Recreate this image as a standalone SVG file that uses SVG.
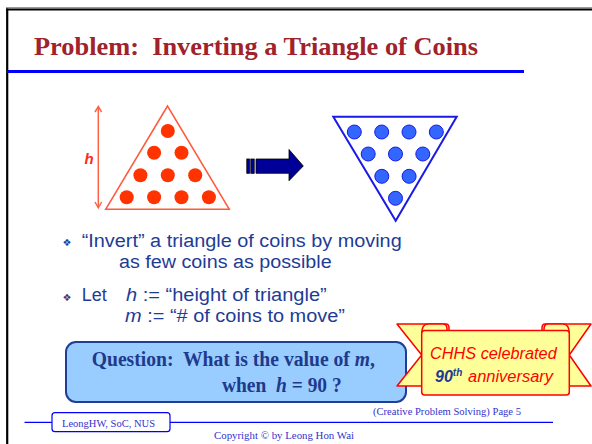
<svg xmlns="http://www.w3.org/2000/svg" width="592" height="444" viewBox="0 0 592 444">
<defs>
<style>
.title{font-family:"Liberation Serif",serif;font-weight:bold;font-size:26px;fill:#A0222B;white-space:pre}
.bul{font-family:"Liberation Sans",Arial,sans-serif;font-size:18px;fill:#1E3C96}
.bsym{font-family:"DejaVu Sans",sans-serif;font-size:10px;fill:#1E3C96}
.q{font-family:"Liberation Serif",serif;font-weight:bold;font-size:20px;fill:#1F3A8C;white-space:pre}
.rc{fill:#FF3300}
.bc{fill:#3366FF;stroke:#1A1AE6;stroke-width:1}
.foot{font-family:"Liberation Serif",serif;font-size:11px;fill:#3333CC}
.ban{fill:#FFFF99;stroke:#FF0000;stroke-width:1.5;stroke-linejoin:round}
.bt{font-family:"Liberation Sans",Arial,sans-serif;font-style:italic;font-size:16px;fill:#FF0000}
</style>
</defs>
<rect width="592" height="444" fill="#FFFFFF"/>
<g id="frame">
<line x1="6" y1="7.7" x2="592" y2="7.7" stroke="#999999" stroke-width="1.2"/>
<line x1="6" y1="9.4" x2="592" y2="9.4" stroke="#000000" stroke-width="2"/>
<line x1="7.2" y1="8.5" x2="7.2" y2="444" stroke="#000000" stroke-width="2.2"/>
</g>
<g id="title">
<text class="title" x="34" y="55" xml:space="preserve" textLength="444" lengthAdjust="spacingAndGlyphs">Problem:  Inverting a Triangle of Coins</text>
<line x1="7" y1="71.5" x2="524" y2="71.5" stroke="#0000FF" stroke-width="3"/>
</g>
<g id="red-triangle">
<polygon points="167.5,106 105.7,209.3 229.3,209.3" fill="none" stroke="#FF5A3C" stroke-width="1.5"/>
<circle class="rc" cx="167.8" cy="131" r="7"/>
<circle class="rc" cx="154.1" cy="152.8" r="7"/>
<circle class="rc" cx="181.5" cy="152.8" r="7"/>
<circle class="rc" cx="140.4" cy="175.2" r="7"/>
<circle class="rc" cx="167.8" cy="175.2" r="7"/>
<circle class="rc" cx="195.2" cy="175.2" r="7"/>
<circle class="rc" cx="126.7" cy="197.3" r="7"/>
<circle class="rc" cx="154.1" cy="197.3" r="7"/>
<circle class="rc" cx="181.5" cy="197.3" r="7"/>
<circle class="rc" cx="208.9" cy="197.3" r="7"/>
</g>
<g id="height-arrow">
<line x1="98.3" y1="107" x2="98.3" y2="207.5" stroke="#FF6347" stroke-width="1.5"/>
<polyline points="95,112 98.3,106.5 101.6,112" fill="none" stroke="#FF6347" stroke-width="1.5"/>
<polyline points="95,202 98.3,207.8 101.6,202" fill="none" stroke="#FF6347" stroke-width="1.5"/>
<text x="84.5" y="164" font-family="Liberation Sans, Arial, sans-serif" font-weight="bold" font-style="italic" font-size="15" fill="#FF2A1A">h</text>
</g>
<g id="block-arrow" fill="#000099" stroke="#000000" stroke-width="0.8">
<rect x="246.8" y="159" width="2.6" height="14.3"/>
<rect x="250.8" y="159" width="3.4" height="14.3"/>
<polygon points="256,159 289,159 289,149.5 303.3,166 289,180.7 289,173.3 256,173.3"/>
</g>
<g id="blue-triangle">
<polygon points="333.3,116.7 456.7,116.7 395.7,220.7" fill="none" stroke="#1A1AE6" stroke-width="2"/>
<circle class="bc" cx="354.3" cy="132" r="7"/>
<circle class="bc" cx="381.7" cy="132" r="7"/>
<circle class="bc" cx="409" cy="132" r="7"/>
<circle class="bc" cx="436.3" cy="132" r="7"/>
<circle class="bc" cx="368.2" cy="154" r="7"/>
<circle class="bc" cx="395.5" cy="154" r="7"/>
<circle class="bc" cx="422.8" cy="154" r="7"/>
<circle class="bc" cx="381.8" cy="176.3" r="7"/>
<circle class="bc" cx="409.1" cy="176.3" r="7"/>
<circle class="bc" cx="395.5" cy="198.3" r="7"/>
</g>
<g id="bullets">
<text class="bsym" x="62.5" y="245.5">❖</text>
<text class="bul" x="81.7" y="247" textLength="320" lengthAdjust="spacingAndGlyphs">“Invert” a triangle of coins by moving</text>
<text class="bul" x="119" y="267.5" textLength="212.7" lengthAdjust="spacingAndGlyphs">as few coins as possible</text>
<text class="bsym" x="62.5" y="300.5">❖</text>
<text class="bul" x="81.7" y="300.5">Let</text>
<text class="bul" x="126" y="300.5" textLength="200.7" lengthAdjust="spacingAndGlyphs"><tspan font-style="italic">h</tspan> := “height of triangle”</text>
<text class="bul" x="125" y="322" textLength="220" lengthAdjust="spacingAndGlyphs"><tspan font-style="italic">m</tspan> := “# of coins to move”</text>
</g>
<g id="question-box">
<rect x="66" y="342" width="340" height="60" rx="10" fill="#99CCFF" stroke="#1F3D99" stroke-width="2"/>
<text class="q" x="91.7" y="365.5" xml:space="preserve" textLength="283.3" lengthAdjust="spacingAndGlyphs">Question:  What is the value of <tspan font-style="italic">m</tspan>,</text>
<text class="q" x="222" y="392" xml:space="preserve" textLength="119.7" lengthAdjust="spacingAndGlyphs">when  <tspan font-style="italic">h</tspan> = 90 ?</text>
</g>
<g id="banner">
<path class="ban" d="M397,324 L446,324 Q449,324 449,328 L449,386 L397,386 L421.7,355 Z"/>
<path class="ban" d="M591,324 L545,324 Q542,324 542,328 L542,386 L591,386 L569.3,355 Z"/>
<path class="ban" d="M421.7,334 Q421.7,324 428,324 L443,324 Q447,324 447,329 L447,334 Z" fill="#F2F28C"/>
<path class="ban" d="M569.3,334 Q569.3,324 563,324 L548,324 Q544,324 544,329 L544,334 Z" fill="#F2F28C"/>
<rect class="ban" x="421.7" y="330.5" width="147.6" height="64.5" rx="3"/>
<text class="bt" x="430" y="358.5" textLength="126.7" lengthAdjust="spacingAndGlyphs">CHHS celebrated</text>
<text x="435" y="381.5" font-family="Liberation Sans, Arial, sans-serif" font-style="italic" font-weight="bold" font-size="16" fill="#1F3A93">90<tspan font-size="10" dy="-6" font-weight="bold">th</tspan></text>
<text class="bt" x="468" y="381.5" textLength="85" lengthAdjust="spacingAndGlyphs">anniversary</text>
</g>
<g id="footer">
<text class="foot" x="373" y="415" textLength="148" lengthAdjust="spacingAndGlyphs">(Creative Problem Solving) Page 5</text>
<line x1="24.5" y1="422.3" x2="553" y2="422.3" stroke="#0000FF" stroke-width="1.2"/>
<rect x="52" y="412.7" width="118" height="19" rx="3" fill="#FFFFFF" stroke="#0000FF" stroke-width="1.2"/>
<text class="foot" x="62" y="427" textLength="93" lengthAdjust="spacingAndGlyphs">LeongHW, SoC, NUS</text>
<text class="foot" x="214" y="438.5" textLength="140" lengthAdjust="spacingAndGlyphs">Copyright © by Leong Hon Wai</text>
</g>
</svg>
